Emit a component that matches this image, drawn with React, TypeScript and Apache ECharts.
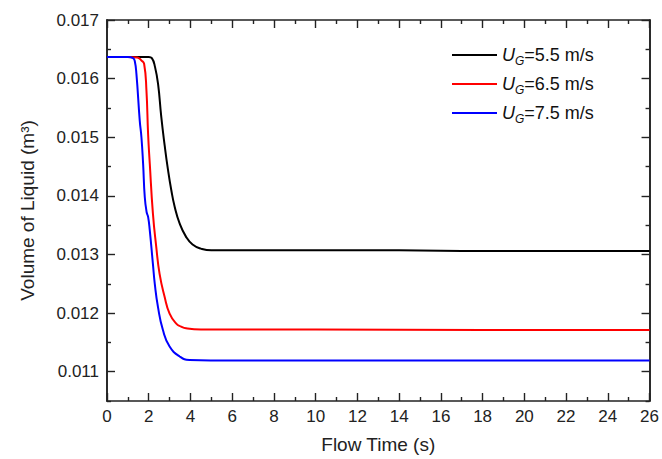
import React, { useEffect, useRef } from "react";
import * as echarts from "echarts";

const seriesNames = ["UG=5.5 m/s", "UG=6.5 m/s", "UG=7.5 m/s"];
const legendValues = ["=5.5 m/s", "=6.5 m/s", "=7.5 m/s"];
const colors = ["#000000", "#ff0000", "#0000ff"];

const tBlack = [0, 1, 2.0, 2.15, 2.3, 2.45, 2.6, 2.76, 2.92, 3.08, 3.24, 3.48, 3.79, 4.1, 4.5, 5, 6, 10, 14, 18, 22, 26];
const vBlack = [0.01637, 0.01637, 0.01637, 0.01635, 0.0162, 0.0159, 0.01535, 0.01487, 0.01445, 0.0141, 0.01382, 0.01353, 0.0133, 0.01317, 0.0131, 0.01307, 0.01307, 0.01307, 0.01307, 0.01306, 0.01306, 0.01306];

const tRed = [0, 1, 1.45, 1.65, 1.78, 1.89, 1.97, 2.05, 2.2, 2.36, 2.52, 2.76, 3.0, 3.32, 3.55, 3.79, 4.5, 10, 18, 26];
const vRed = [0.01637, 0.01637, 0.01636, 0.01631, 0.01625, 0.0158, 0.01505, 0.01455, 0.0137, 0.01313, 0.01267, 0.01228, 0.01199, 0.01182, 0.01177, 0.01174, 0.01172, 0.01172, 0.01171, 0.01171];

const tBlue = [0, 1, 1.25, 1.33, 1.41, 1.57, 1.65, 1.73, 1.81, 1.9, 1.97, 2.05, 2.2, 2.29, 2.44, 2.68, 3.0, 3.48, 3.95, 6, 14, 26];
const vBlue = [0.01637, 0.01637, 0.01635, 0.0163, 0.01608, 0.01528, 0.015, 0.01455, 0.01398, 0.01372, 0.01364, 0.01341, 0.01284, 0.0125, 0.01211, 0.01171, 0.01143, 0.01126, 0.0112, 0.01119, 0.01119, 0.01119];

const yMajor = [0.011, 0.012, 0.013, 0.014, 0.015, 0.016, 0.017];
const yMinor = [0.0105, 0.0115, 0.0125, 0.0135, 0.0145, 0.0155, 0.0165];

const FONT = 'Arial, "Liberation Sans", sans-serif';
const AX = "#222222";

const zip = (t: number[], v: number[]) => t.map((x, i) => [x, v[i]]);

export default function App() {
  const ref = useRef<HTMLDivElement>(null);
  useEffect(() => {
    if (!ref.current) return;
    const chart = echarts.init(ref.current, undefined, { renderer: "svg" });
    const lineAx = { show: true, lineStyle: { color: AX, width: 1.6 } };
    const yAxisBase = (pos: string, ticks: number[], len: number, labels: boolean, extra: any = {}) => ({
      type: "value",
      position: pos,
      min: 0.0105,
      max: 0.017,
      axisLine: lineAx,
      splitLine: { show: false },
      axisTick: { show: true, inside: true, length: len, customValues: ticks, lineStyle: { color: AX, width: 1.4 } },
      axisLabel: labels
        ? { show: true, customValues: yMajor, formatter: (v: number) => v.toFixed(3), fontSize: 17, color: AX, fontFamily: FONT, margin: 8 }
        : { show: false },
      ...extra,
    });
    const xAxisBase = (pos: string, labels: boolean, extra: any = {}) => ({
      type: "value",
      position: pos,
      min: 0,
      max: 26,
      interval: 2,
      axisLine: lineAx,
      splitLine: { show: false },
      axisTick: { show: true, inside: true, length: 8, lineStyle: { color: AX, width: 1.4 } },
      minorTick: { show: true, splitNumber: 2, length: 4, lineStyle: { color: AX, width: 1.4 } },
      minorSplitLine: { show: false },
      axisLabel: labels ? { show: true, fontSize: 17, color: AX, fontFamily: FONT, margin: 7 } : { show: false },
      ...extra,
    });
    const seriesData = [zip(tBlack, vBlack), zip(tRed, vRed), zip(tBlue, vBlue)];
    chart.setOption({
      animation: false,
      backgroundColor: "#ffffff",
      grid: { left: 107, right: 10, top: 20, bottom: 57, containLabel: false },
      legend: {
        orient: "vertical",
        left: 447,
        top: 41,
        itemWidth: 45,
        itemHeight: 2,
        itemGap: 8,
        icon: "rect",
        data: seriesNames,
        formatter: (name: string) => {
          const i = seriesNames.indexOf(name);
          return `{u|U}{g|G}{n|${legendValues[i]}}`;
        },
        textStyle: {
          fontFamily: FONT,
          fontSize: 18,
          color: "#111",
          rich: {
            u: { fontStyle: "italic", fontSize: 18, fontFamily: FONT, color: "#111" },
            g: { fontStyle: "italic", fontSize: 12, fontFamily: FONT, color: "#111", padding: [12, 0, 0, 0] },
            n: { fontSize: 18, fontFamily: FONT, color: "#111" },
          },
        },
      },
      xAxis: [
        xAxisBase("bottom", true, {
          name: "Flow Time (s)",
          nameLocation: "middle",
          nameGap: 34,
          nameTextStyle: { fontSize: 19, color: AX, fontFamily: FONT },
        }),
        xAxisBase("top", false),
      ],
      yAxis: [
        yAxisBase("left", yMajor, 8, true, {
          name: "Volume of Liquid (m³)",
          nameLocation: "middle",
          nameGap: 70,
          nameTextStyle: { fontSize: 19, color: AX, fontFamily: FONT },
        }),
        yAxisBase("left", yMinor, 4, false),
        yAxisBase("right", yMajor, 8, false),
        yAxisBase("right", yMinor, 4, false),
      ],
      series: seriesNames.map((n, i) => ({
        name: n,
        type: "line",
        xAxisIndex: 0,
        yAxisIndex: 0,
        data: seriesData[i],
        symbol: "none",
        smooth: 0.5,
        lineStyle: { color: colors[i], width: 2 },
        itemStyle: { color: colors[i] },
      })),
    });
    return () => chart.dispose();
  }, []);
  return (
    <div
      ref={ref}
      style={{ position: "fixed", left: 0, top: 0, width: 662, height: 459, background: "#fff" }}
    />
  );
}
